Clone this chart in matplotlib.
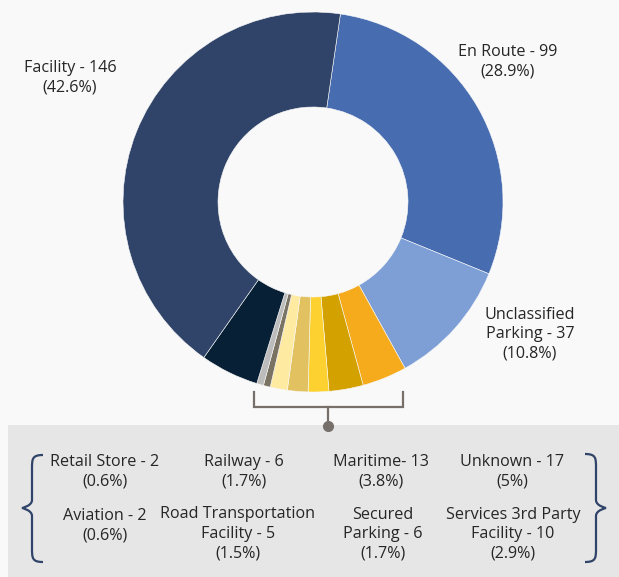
import matplotlib
matplotlib.use("Agg")
import matplotlib.pyplot as plt
from matplotlib.patches import Rectangle, PathPatch
from matplotlib.path import Path

# data (slice order as drawn, clockwise from the top)
categories = ["En Route", "Unclassified Parking", "Maritime", "Services 3rd Party Facility",
              "Secured Parking", "Railway", "Road Transportation Facility", "Aviation",
              "Retail Store", "Unknown", "Facility"]
counts = [99, 37, 13, 10, 6, 6, 5, 2, 2, 17, 146]
colors = ["#476db0", "#7d9fd6", "#f6ab1d", "#d4a200", "#fdd12f", "#e2c260",
          "#feeaa0", "#7a7263", "#bcbcbc", "#082035", "#2f4468"]

# labels in the grey box: (text, x, y of first line) in pixel coords
box_labels = [
    ("Retail Store - 2\n(0.6%)", 105, 462),
    ("Railway - 6\n(1.7%)", 244, 462),
    ("Maritime- 13\n(3.8%)", 381, 462),
    ("Unknown - 17\n(5%)", 512, 462),
    ("Aviation - 2\n(0.6%)", 105, 516),
    ("Road Transportation\nFacility - 5\n(1.5%)", 238, 514),
    ("Secured\nParking - 6\n(1.7%)", 383, 515),
    ("Services 3rd Party\nFacility - 10\n(2.9%)", 513, 515),
]

W, H = 619, 577
plt.rcParams['font.family'] = ['Open Sans', 'DejaVu Sans']
fig = plt.figure(figsize=(W / 100, H / 100), dpi=100)
fig.patch.set_facecolor("#f9f9f9")
ax = fig.add_axes([0, 0, 1, 1])


def py(y):
    # convert image pixel row to data y
    return H - y


# donut
ax.pie(counts, colors=colors, startangle=81.7, counterclock=False,
       center=(313, py(202)), radius=190,
       wedgeprops=dict(width=95, edgecolor="#f9f9f9", linewidth=0.4))

ax.set_xlim(0, W)
ax.set_ylim(0, H)
ax.set_aspect("auto")
ax.axis("off")

txt_color = "#262626"
fs = 11.6
lh = 19.5  # line height in px


def put_label(text, x, y):
    lines = text.split("\n")
    for i, line in enumerate(lines):
        ax.text(x, py(y + i * lh), line, ha="center", va="center",
                fontsize=fs, color=txt_color)


put_label("Facility - 146\n(42.6%)", 70, 68)
put_label("En Route - 99\n(28.9%)", 508, 52)
put_label("Unclassified\nParking - 37\n(10.8%)", 530, 315)

# grey box at the bottom
ax.add_patch(Rectangle((8, 0), W - 8, py(425), facecolor="#e6e6e6", edgecolor="none"))

# connector bracket
bc = "#77706a"
ax.plot([254, 254, 403, 403], [py(392), py(407), py(407), py(392)], color=bc, lw=1.6,
        solid_joinstyle="miter")
ax.plot([328, 328], [py(407), py(424)], color=bc, lw=1.6)
ax.plot([328], [py(426)], "o", color=bc, markersize=7)

for text, x, y in box_labels:
    put_label(text, x, y)


# curly braces
def brace(x_tip, x_mid, x_point, y_top, y_mid, y_bot):
    verts = [
        (x_tip, py(y_top)),
        (x_mid, py(y_top)), (x_mid, py(y_top + 4)), (x_mid, py(y_top + 14)),
        (x_mid, py(y_mid - 8)),
        (x_mid, py(y_mid - 2)), (x_point, py(y_mid)), (x_point, py(y_mid)),
        (x_point, py(y_mid)), (x_mid, py(y_mid + 2)), (x_mid, py(y_mid + 8)),
        (x_mid, py(y_bot - 14)),
        (x_mid, py(y_bot - 4)), (x_mid, py(y_bot)), (x_tip, py(y_bot)),
    ]
    codes = [Path.MOVETO,
             Path.CURVE4, Path.CURVE4, Path.CURVE4,
             Path.LINETO,
             Path.CURVE4, Path.CURVE4, Path.CURVE4,
             Path.CURVE4, Path.CURVE4, Path.CURVE4,
             Path.LINETO,
             Path.CURVE4, Path.CURVE4, Path.CURVE4]
    ax.add_patch(PathPatch(Path(verts, codes), facecolor="none",
                           edgecolor="#2f4468", lw=1.6))


brace(43, 32, 22, 455, 508, 562)
brace(585, 596, 606, 454, 508, 562)

fig.savefig("out.png", dpi=100, facecolor=fig.get_facecolor())
